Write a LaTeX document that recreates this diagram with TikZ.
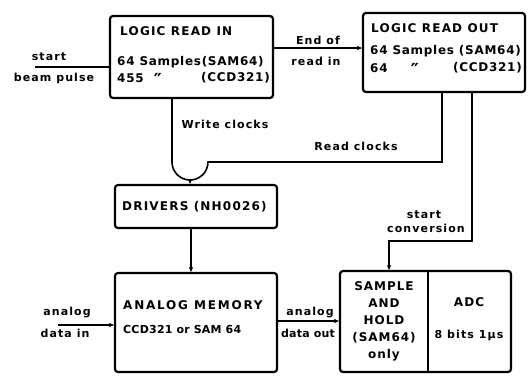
\documentclass[tikz,border=0pt]{standalone}
\usepackage{fontspec}
\setmainfont{DejaVu Sans}
\usetikzlibrary{positioning, arrows.meta}

\begin{document}
\begin{tikzpicture}[x = 1pt, y = -1pt,
    blk/.style = {draw, line width = 2.2pt, rounded corners = 3pt, inner sep = 0pt},
    wire/.style = {line width = 1.6pt},
    tip/.style = {-{Stealth[length = 5pt, width = 4.5pt]}},
    txt/.style = {font = \bfseries\fontsize{11}{13}\selectfont\addfontfeature{LetterSpace = 2}, inner sep = 0pt},
    wide/.style = {font = \bfseries\fontsize{12}{13}\selectfont\addfontfeature{LetterSpace = 6}, inner sep = 0pt},
    ttl/.style = {font = \bfseries\fontsize{12}{13}\selectfont\addfontfeature{LetterSpace = 10}, inner sep = 0pt},
    ditto/.style = {font = \bfseries\fontsize{18}{18}\selectfont, inner sep = 0pt},
    lbl/.style = {font = \bfseries\fontsize{11}{12}\selectfont\addfontfeature{LetterSpace = 10}, inner sep = 0pt}]
    \useasboundingbox (0, 0) rectangle (529, 376);

    % blocks
    \node[blk, minimum width = 163, minimum height = 82] (readin) at (191.5, 57) {};
    \node[blk, minimum width = 162, minimum height = 79] (readout) at (444, 52.5) {};
    \node[blk, minimum width = 162, minimum height = 43] (drivers) at (196, 206.5) {};
    \node[blk, minimum width = 162, minimum height = 99] (memory) at (196, 322.5) {};
    \node[blk, minimum width = 171, minimum height = 101] (shadc) at (425.5, 321.5) {};
    \draw[blk] (shadc.north -| 428, 0) -- (shadc.south -| 428, 0);

    % texts in the blocks
    \node[ttl, anchor = west] (rititle) at (120, 31) {LOGIC READ IN};
    \node[wide, anchor = west] (risam) at (117, 62) {64 Samples(SAM64)};
    \node[wide, anchor = west] (riccd) at (117, 78) {455};
    \node[ditto] (ridit) at (158, 80) {″};
    \node[wide, anchor = east] (riccdn) at (270, 78) {(CCD321)};

    \node[ttl, anchor = west] (rotitle) at (371, 28) {LOGIC READ OUT};
    \node[wide, anchor = west] (rosam) at (370, 51) {64 Samples (SAM64)};
    \node[wide, anchor = west] (roccd) at (370, 68) {64};
    \node[ditto] (rodit) at (415, 70) {″};
    \node[wide, anchor = east] (roccdn) at (522, 68) {(CCD321)};

    \node[ttl, anchor = west] (drvtext) at (122, 207) {DRIVERS (NH0026)};
    \node[ttl, anchor = west, font = \bfseries\fontsize{12}{13}\selectfont\addfontfeature{LetterSpace = 15}] (memtitle) at (123, 305) {ANALOG MEMORY};
    \node[txt, anchor = west] (memtype) at (123, 329) {CCD321 or SAM 64};
    \node[ttl, align = center, font = \bfseries\fontsize{12}{17}\selectfont\addfontfeature{LetterSpace = 8}] (shtext) at (384, 321) {SAMPLE\\AND\\HOLD\\(SAM64)\\only};
    \node[ttl] (adctitle) at (469, 302) {ADC};
    \node[lbl] (adcbits) at (469, 335) {8 bits 1µs};

    % connectors
    \coordinate (beam) at (35, 67);
    \draw[wire] (beam) -- (beam -| readin.west);
    \node[lbl] (startlbl) at (49, 57) {start};
    \node[lbl] (beamlbl) at (54, 78) {beam pulse};

    \draw[wire, tip] (readin.east |- 0, 48) -- (readout.west |- 0, 48);
    \node[lbl] (endlbl) at (318, 40) {End of};
    \node[lbl] (readinlbl) at (316, 61) {read in};

    \coordinate (wc) at (172, 162);
    \coordinate (rc) at (442, 162);
    \coordinate (hop) at (190, 180);
    \draw[wire] (readin.south -| wc) -- (wc) arc (180:90:18);
    \draw[wire] (readout.south -| rc) -- (rc) -- (208, 162) arc (0:90:18);
    \draw[wire, tip] (hop) -- (drivers.north -| hop);
    \node[lbl] (wclbl) at (225, 124) {Write clocks};
    \node[lbl] (rclbl) at (356, 146) {Read clocks};

    \draw[wire, tip] (drivers.south -| 191, 0) -- (memory.north -| 191, 0);

    \coordinate (anin) at (58, 325);
    \draw[wire, tip] (anin) -- (anin -| memory.west);
    \node[lbl] (aninlbl) at (67, 312) {analog};
    \node[lbl] (datainlbl) at (65, 333) {data in};

    \draw[wire, tip] (memory.east |- 0, 321) -- (shadc.west |- 0, 321);
    \node[lbl] (anoutlbl) at (310, 312) {analog};
    \node[lbl, font = \bfseries\fontsize{11}{12}\selectfont\addfontfeature{LetterSpace = 2}] (dataoutlbl) at (308, 333) {data out};

    \coordinate (sc) at (472, 241);
    \draw[wire, tip] (readout.south -| sc) -- (sc) -- (389, 241) -- (shadc.north -| 389, 0);
    \node[lbl] (sclbl) at (424, 215) {start};
    \node[lbl] (convlbl) at (426, 228) {conversion};
\end{tikzpicture}
\end{document}
